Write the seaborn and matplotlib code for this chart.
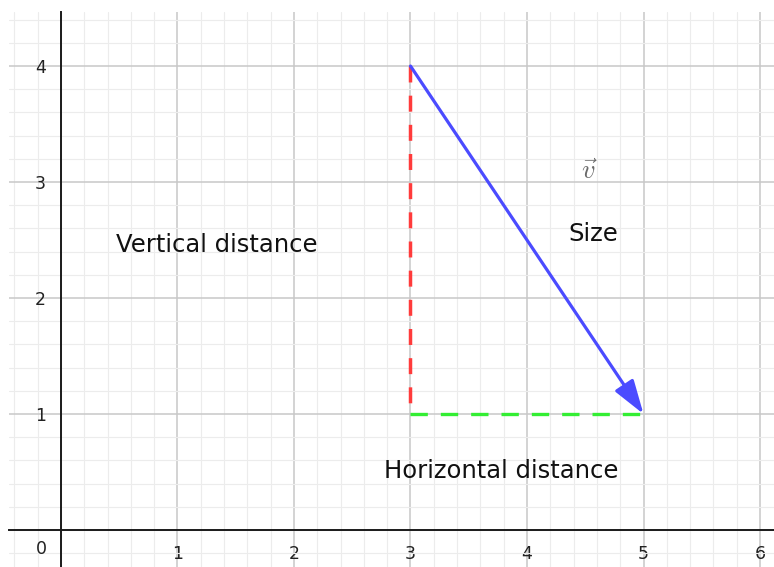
import matplotlib
matplotlib.use("Agg")
import matplotlib.pyplot as plt
from matplotlib.ticker import MultipleLocator
import pandas as pd
import seaborn as sns

# Data
start = (3, 4)
end = (5, 1)
vertical_x = [3, 3]
vertical_y = [4, 1]
horizontal_x = [3, 5]
horizontal_y = [1, 1]
x_ticks = [1, 2, 3, 4, 5, 6]
y_ticks = [1, 2, 3, 4]
labels = ["Vertical distance", "Size", "Horizontal distance"]
label_x = [1.34, 4.57, 3.78]
label_y = [2.46, 2.55, 0.51]

sns.set_style("white")
plt.rcParams["font.family"] = ["DejaVu Sans"]
plt.rcParams["mathtext.fontset"] = "cm"

fig = plt.figure(figsize=(7.74, 5.67), dpi=100)
ax = fig.add_axes([9 / 774, 0, 765 / 774, 555 / 567])

ax.set_xlim(-0.446, 6.12)
ax.set_ylim(-0.319, 4.466)

# grid
ax.set_xticks(x_ticks)
ax.set_yticks(y_ticks)
ax.xaxis.set_minor_locator(MultipleLocator(0.2))
ax.yaxis.set_minor_locator(MultipleLocator(0.2))
ax.grid(which="minor", color="#ececec", lw=0.8)
ax.grid(which="major", color="#c8c8c8", lw=1.1)
ax.set_axisbelow(True)

for s in ["top", "right"]:
    ax.spines[s].set_visible(False)
for s in ["left", "bottom"]:
    ax.spines[s].set_position(("data", 0))
    ax.spines[s].set_color("#1a1a1a")
    ax.spines[s].set_linewidth(1.4)
ax.tick_params(which="both", length=0)
ax.tick_params(axis="x", pad=11, labelsize=12.5, labelcolor="#222222")
ax.tick_params(axis="y", pad=11, labelsize=12.5, labelcolor="#222222")
ax.text(-0.165, -0.16, "0", fontsize=12.5, color="#222222", ha="center", va="center")

# dashed components
vdf = pd.DataFrame({"x": vertical_x, "y": vertical_y})
hdf = pd.DataFrame({"x": horizontal_x, "y": horizontal_y})
sns.lineplot(data=vdf, x="x", y="y", ax=ax, color="#ff3b3b", lw=2.5,
             linestyle=(0, (4.6, 3.8)), estimator=None, sort=False)
sns.lineplot(data=hdf, x="x", y="y", ax=ax, color="#33ee33", lw=2.4,
             linestyle=(0, (5.2, 3.9)), estimator=None, sort=False)

# vector
ax.annotate("", xy=end, xytext=start,
            arrowprops=dict(arrowstyle="-|>,head_length=1.3,head_width=0.42",
                            color="#4b4bff", lw=2.3, shrinkA=0, shrinkB=0,
                            mutation_scale=16))

for t, x, y in zip(labels, label_x, label_y):
    ax.text(x, y, t, fontsize=17.5, color="#111111", ha="center", va="center")
ax.text(4.53, 3.09, r"$\vec{v}$", fontsize=19, color="#6a6a6a", ha="center", va="center")

ax.set_xlabel("")
ax.set_ylabel("")
fig.savefig("out.png", dpi=100)
